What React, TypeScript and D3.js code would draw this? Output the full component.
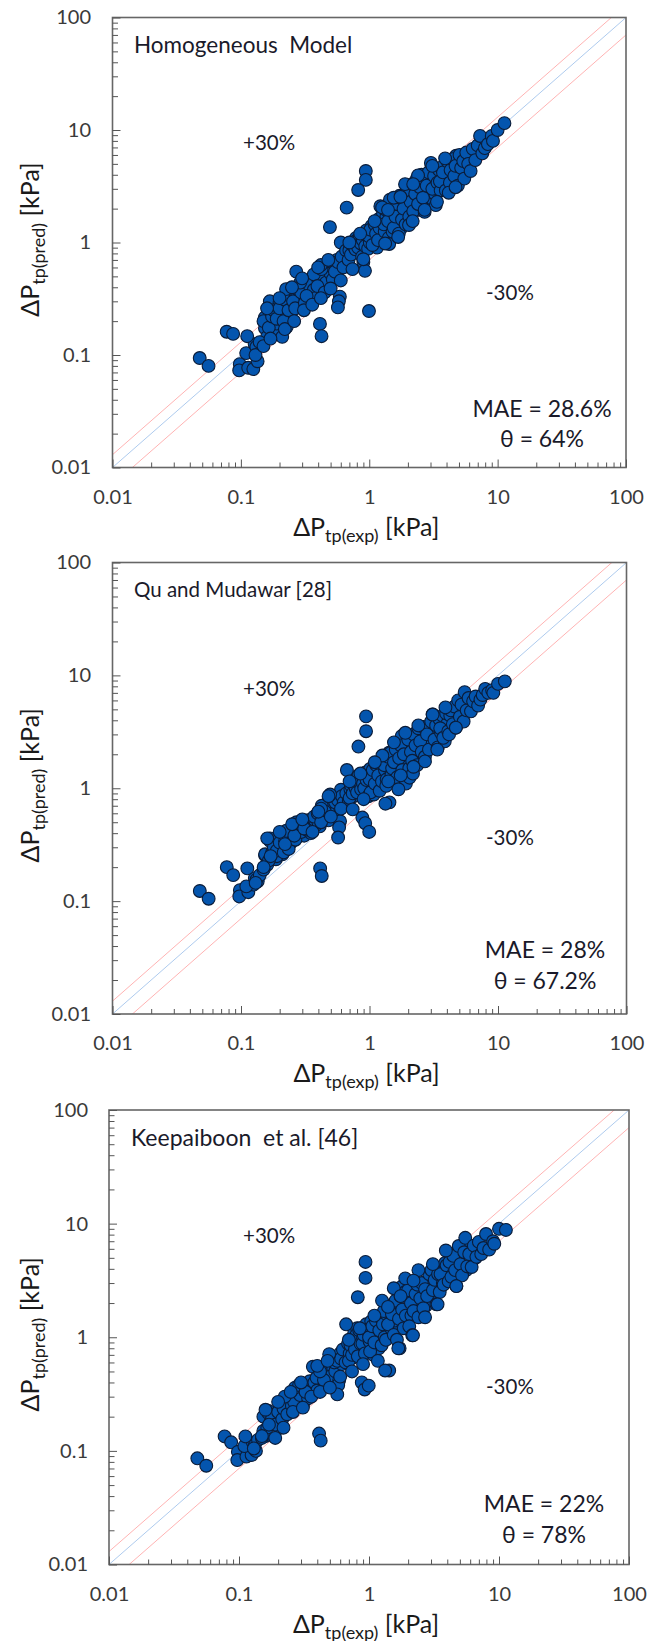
import React, { useRef, useEffect } from "react";
import * as d3 from "d3";

// experimental pressure drop, shared by the three panels [kPa]
const expValues = [
  .0478,.056,.0775,.087,.098,.097,.114,.125,.135,.11,.128,.132,
  .112,.154,.16,.187,.21,.154,.169,.168,.19,.2,.228,.245,
  .21,.23,.24,.25,.26,.275,.28,.3,.31,.33,.345,.36,
  .14,.15,.165,.175,.18,.19,.2,.215,.22,.235,.255,.265,
  .295,.315,.34,.35,.37,.41,.44,.47,.49,.51,.53,.56,
  .38,.4,.43,.46,.48,.5,.52,.55,.58,.62,.65,.68,
  .225,.27,.29,.325,.37,.395,.425,.45,.54,.42,.6,.57,
  .61,.63,.66,.69,.71,.73,.75,.77,.79,.81,.83,.85,
  .7,.72,.74,.76,.78,.8,.82,.84,.86,.88,.9,.926,
  .94,.94,.82,.667,.494,.995,.59,.58,.57,.413,.425,.97,
  .89,.91,.93,.95,.98,1.01,1.04,1.08,1.12,1.15,1.19,1.24,
  1.0,1.02,1.06,1.1,1.13,1.17,1.2,1.22,1.25,1.28,1.32,1.36,
  1.3,1.35,1.42,1.48,1.52,1.58,1.66,1.72,1.78,1.83,1.9,1.96,
  1.4,1.43,1.45,1.5,1.55,1.6,1.64,1.7,1.75,1.8,1.85,1.92,
  2.05,2.12,2.25,2.32,2.42,2.52,2.65,2.75,2.95,3.05,3.25,3.45,
  2.0,2.04,2.1,2.15,2.2,2.28,2.35,2.4,2.48,2.55,2.62,2.7,
  2.8,2.9,3.02,3.1,3.2,3.3,3.4,3.5,3.6,3.7,3.85,4.0,
  3.55,3.75,3.95,4.1,4.25,4.5,4.75,5.0,5.3,5.6,6.0,6.6,
  4.16,4.3,4.45,4.6,4.7,4.9,5.05,5.2,5.4,5.5,5.7,5.9,
  6.16,6.4,6.7,7.0,7.3,7.6,7.95,8.4,9.0,9.2,10.0,11.3,
  1.33,1.68,2.18,2.7,3.37,4.7,1.26,1.55,1.9,2.4,3.1,3.9,
  .13,.15,.17,.22,.26,.31,.36,.42,.5,.6,.74,.9,
  .16,.2,.25,.3,.4,.48,.7,.85,1.1,1.4,1.75,2.2,
];

const homogeneousPred = [
  .094,.08,.161,.154,.083,.073,.077,.075,.088,.104,.125,.118,
  .147,.173,.145,.154,.145,.216,.27,.3,.19,.295,.178,.232,
  .24,.3,.27,.35,.29,.34,.38,.31,.4,.37,.3,.44,
  .13,.2,.175,.22,.25,.21,.26,.2,.31,.25,.3,.26,
  .36,.29,.42,.33,.38,.52,.42,.56,.48,.62,.5,.7,
  .32,.47,.5,.44,.6,.53,.47,.64,.58,.66,.72,.62,
  .385,.55,.44,.335,.52,.41,.58,.36,.55,.63,1.0,.67,
  .75,.6,.85,.7,.92,.8,1.02,.88,1.1,.93,.82,1.15,
  .85,.78,.95,.94,.87,1.05,.9,1.1,.98,.75,.67,.56,
  4.32,3.6,2.93,2.04,1.37,.246,.33,.3,.265,.189,.147,1.15,
  1.05,1.2,.93,1.28,.88,1.0,1.4,1.25,1.5,.9,1.62,1.1,
  1.13,1.3,.95,1.45,1.2,1.05,1.35,2.1,1.55,1.8,1.25,1.7,
  1.45,1.95,1.1,2.05,1.25,2.3,1.5,2.6,1.35,2.2,1.75,2.9,
  1.55,.97,2.4,1.9,1.35,1.7,2.2,1.2,2.5,1.6,2.0,1.45,
  1.7,2.6,2.0,3.0,1.95,3.4,2.3,3.6,2.5,4.6,2.7,3.8,
  2.9,1.43,2.3,3.3,1.9,2.7,3.7,2.2,3.1,4.0,2.5,1.87,
  3.2,4.2,5.1,3.0,3.9,2.15,3.4,4.4,2.9,4.7,3.7,3.1,
  3.5,4.2,2.9,5.2,3.4,4.3,5.9,4.0,5.0,5.8,4.6,6.5,
  2.77,4.4,5.5,3.9,4.8,3.2,6.0,4.6,5.3,3.7,6.3,5.0,
  4.32,6.8,5.4,7.3,8.85,6.2,6.9,7.5,8.85,8.0,10.0,11.5,
  .98,1.12,1.55,1.95,2.3,3.1,2.05,2.5,3.3,3.95,4.8,5.6,
  .1,.12,.14,.17,.2,.25,.28,.32,.39,.46,.58,.71,
  .26,.32,.4,.48,.6,.7,1.0,1.2,1.55,1.95,2.55,3.3,
];

const quMudawarPred = [
  .123,.105,.2,.17,.125,.11,.12,.14,.15,.135,.16,.155,
  .195,.255,.21,.235,.26,.26,.34,.36,.25,.3,.31,.33,
  .3,.39,.36,.34,.42,.37,.4,.46,.38,.52,.45,.42,
  .17,.19,.23,.27,.3,.28,.33,.27,.34,.29,.39,.35,
  .41,.44,.49,.4,.53,.46,.55,.63,.68,.59,.66,.77,
  .47,.5,.6,.54,.52,.72,.6,.62,.7,.8,.72,.95,
  .42,.5,.48,.43,.56,.6,.7,.62,.75,.66,.97,.78,
  .85,.75,.9,.78,.98,1.1,.85,.95,1.15,1.28,1.02,.9,
  .82,1.05,.9,1.2,1.0,.92,1.3,1.1,.98,.55,1.25,.49,
  4.33,3.2,2.34,1.45,.88,.41,.51,.45,.366,.195,.167,1.35,
  1.1,1.0,1.38,1.18,.85,1.48,1.25,.88,1.55,1.3,1.02,1.68,
  1.2,.92,1.45,1.1,1.6,1.3,.95,1.75,1.15,1.9,1.45,1.2,
  1.6,1.05,2.07,1.3,1.85,1.15,2.3,1.6,2.9,1.25,2.45,1.7,
  1.9,.75,2.05,1.5,1.7,2.2,1.25,1.85,2.4,1.45,2.0,1.1,
  1.24,2.8,2.0,3.1,2.3,3.5,2.0,3.2,2.5,3.7,3.0,4.2,
  2.7,1.5,2.1,1.75,3.0,2.4,1.6,3.4,2.6,2.1,3.5,1.9,
  3.0,2.2,3.9,4.5,2.7,3.6,2.3,4.1,3.1,4.4,2.6,3.7,
  3.4,2.8,4.6,3.2,4.4,5.0,3.6,5.6,4.5,6.6,5.2,5.9,
  3.0,4.9,3.7,5.3,3.44,6.0,4.3,5.5,3.9,7.1,4.9,6.3,
  4.8,5.9,6.5,5.4,6.1,6.7,7.6,7.0,7.4,7.0,8.4,8.85,
  .73,.98,1.35,1.73,2.2,3.44,1.95,2.55,3.1,3.6,4.5,5.2,
  .145,.2,.25,.32,.38,.44,.41,.5,.56,.66,.65,.8,
  .36,.41,.48,.53,.62,.85,1.15,1.35,1.7,1.15,1.3,1.55,
];

const keepaiboonPred = [
  .086,.074,.134,.119,.098,.083,.089,.092,.1,.11,.118,.112,
  .134,.15,.135,.17,.16,.2,.225,.215,.13,.19,.21,.22,
  .2,.24,.27,.23,.29,.26,.32,.28,.25,.34,.3,.36,
  .125,.13,.16,.18,.195,.17,.22,.19,.235,.21,.25,.27,
  .31,.36,.29,.41,.35,.4,.46,.43,.53,.47,.58,.52,
  .4,.34,.48,.38,.56,.45,.62,.5,.68,.58,.72,.8,
  .3,.36,.38,.33,.55,.44,.52,.42,.6,.5,.72,.62,
  .65,.78,.6,.88,.72,.95,.66,1.1,.82,1.2,.92,.74,
  .62,.85,.7,.94,.78,1.05,.68,1.15,.88,.4,1.0,.347,
  4.6,3.33,2.25,1.3,.71,.375,.42,.38,.314,.142,.123,.86,
  .88,1.05,.72,1.3,1.12,.92,1.38,.7,1.2,1.5,.8,1.05,
  1.0,.75,1.25,.9,1.4,.62,1.15,1.5,.85,1.3,1.0,1.6,
  1.7,.95,1.9,1.2,1.75,1.4,2.15,.8,2.78,1.35,2.5,1.65,
  1.3,.51,1.9,1.6,1.05,2.1,.95,1.45,2.3,1.75,1.2,1.55,
  2.25,1.55,3.1,2.1,2.7,2.0,3.0,1.9,3.3,2.8,2.4,3.0,
  2.6,1.25,2.0,1.04,1.7,2.4,2.9,1.5,2.2,3.0,1.8,2.65,
  2.3,3.6,3.9,2.6,3.2,1.95,3.6,2.5,4.1,3.0,4.5,3.4,
  3.6,2.9,4.3,3.1,4.8,3.7,5.5,4.1,6.0,3.9,6.2,5.0,
  4.6,3.4,5.2,3.9,2.82,6.35,4.4,3.5,5.6,7.5,4.2,5.4,
  4.15,6.4,5.1,6.9,5.4,6.1,8.1,5.9,7.0,6.65,9.0,8.8,
  .51,.8,1.04,1.5,1.95,2.82,2.1,2.7,3.3,3.9,4.4,5.8,
  .105,.135,.17,.16,.22,.24,.3,.33,.36,.45,.5,.58,
  .23,.27,.33,.4,.56,.62,.95,1.2,1.55,1.85,2.3,3.15,
];

const majorTicks = [0.01, 0.1, 1, 10, 100];
const minorTicks = d3.range(-2, 2).flatMap((e) =>
  [2, 3, 4, 5, 6, 7, 8, 9].map((m) => +(m * 10 ** e).toPrecision(2))
);
const guideLines = [
  { factor: 1.3, color: "#ffb3b3" },
  { factor: 1, color: "#aecbee" },
  { factor: 0.7, color: "#ffb3b3" },
];
const guideDomain = [0.01, 100];

const panels = [
  {
    title: "Homogeneous  Model", mae: "MAE = 28.6%", theta: "θ = 64%", pred: homogeneousPred,
    left: 112.5, right: 626, top: 17.5, bottom: 467.5, labelEnd: 91, titleSize: 22.5,
    titleX: 134, titleY: 53, plusY: 150, minusX: 486, minusY: 300, maeX: 542, maeY: 417, thetaX: 542, thetaY: 447,
  },
  {
    title: "Qu and Mudawar [28]", mae: "MAE = 28%", theta: "θ = 67.2%", pred: quMudawarPred,
    left: 112.5, right: 626.5, top: 562.5, bottom: 1014, labelEnd: 91, titleSize: 20.5,
    titleX: 134, titleY: 597, plusY: 696, minusX: 486, minusY: 845, maeX: 545, maeY: 958, thetaX: 545, thetaY: 989,
  },
  {
    title: "Keepaiboon  et al. [46]", mae: "MAE = 22%", theta: "θ = 78%", pred: keepaiboonPred,
    left: 109, right: 629, top: 1110, bottom: 1564.5, labelEnd: 88, titleSize: 23,
    titleX: 131, titleY: 1146, plusY: 1243, minusX: 486, minusY: 1394, maeX: 544, maeY: 1512, thetaX: 544, thetaY: 1543,
  },
];

const FONT = "Lato, 'Open Sans', sans-serif";

function addLabel(parent, x, y, main, sub, rotate) {
  const t = parent
    .append("text")
    .attr("font-size", 25)
    .attr("fill", "#1a1a1a")
    .attr("text-anchor", "middle")
    .attr("transform", `translate(${x},${y})` + (rotate ? " rotate(-90)" : ""));
  t.append("tspan").text(main);
  t.append("tspan").attr("font-size", 18).attr("dy", 6).text(sub);
  t.append("tspan").attr("dy", -6).text(" [kPa]");
}

const App = () => {
  const svgRef = useRef();

  useEffect(() => {
    const svg = d3.select(svgRef.current);
    svg.selectAll("*").remove();
    svg.style("font-family", FONT);

    panels.forEach((p, i) => {
      const x = d3.scaleLog().domain([0.01, 100]).range([p.left, p.right]);
      const y = d3.scaleLog().domain([0.01, 100]).range([p.bottom, p.top]);
      const g = svg.append("g");
      const clipId = "clip" + i;

      g.append("clipPath")
        .attr("id", clipId)
        .append("rect")
        .attr("x", p.left)
        .attr("y", p.top)
        .attr("width", p.right - p.left)
        .attr("height", p.bottom - p.top);

      guideLines.forEach((l) => {
        const line = d3
          .line()
          .x((d) => x(d))
          .y((d) => y(d * l.factor));
        g.append("path")
          .attr("d", line(guideDomain))
          .attr("clip-path", `url(#${clipId})`)
          .attr("fill", "none")
          .attr("stroke", l.color)
          .attr("stroke-width", 1);
      });

      g.append("rect")
        .attr("x", p.left)
        .attr("y", p.top)
        .attr("width", p.right - p.left)
        .attr("height", p.bottom - p.top)
        .attr("fill", "none")
        .attr("stroke", "#666")
        .attr("stroke-width", 1.6);

      // ticks point into the plot
      const axisB = g.append("g").attr("transform", `translate(0,${p.bottom})`);
      axisB.call(d3.axisBottom(x).tickValues(minorTicks).tickSize(-5).tickFormat(() => ""));
      const axisBMajor = g.append("g").attr("transform", `translate(0,${p.bottom})`);
      axisBMajor.call(d3.axisBottom(x).tickValues(majorTicks).tickSize(-8).tickFormat((d) => String(d)));
      const axisL = g.append("g").attr("transform", `translate(${p.left},0)`);
      axisL.call(d3.axisLeft(y).tickValues(minorTicks).tickSize(-5.5).tickFormat(() => ""));
      const axisLMajor = g.append("g").attr("transform", `translate(${p.left},0)`);
      axisLMajor.call(d3.axisLeft(y).tickValues(majorTicks).tickSize(-8).tickFormat((d) => String(d)));

      [axisB, axisBMajor, axisL, axisLMajor].forEach((a) => {
        a.select(".domain").remove();
        a.selectAll("line").attr("stroke", "#555").attr("stroke-width", 1);
        a.selectAll("text")
          .attr("fill", "#3a3a3a")
          .style("font-family", FONT)
          .style("font-size", "20px");
      });
      axisBMajor.selectAll("text").attr("y", 22).attr("dy", "0.71em");
      axisLMajor.selectAll("text").attr("x", p.labelEnd - p.left);

      g.append("g")
        .selectAll("circle")
        .data(d3.zip(expValues, p.pred))
        .join("circle")
        .attr("cx", (d) => x(d[0]))
        .attr("cy", (d) => y(d[1]))
        .attr("r", 6.4)
        .attr("fill", "#0455ae")
        .attr("stroke", "#0b1c38")
        .attr("stroke-width", 1.1);

      const note = (tx, ty, str, anchor, size) =>
        g.append("text")
          .attr("x", tx)
          .attr("y", ty)
          .attr("text-anchor", anchor)
          .attr("font-size", size)
          .attr("fill", "#1a1a2a")
          .style("white-space", "pre")
          .text(str);

      note(p.titleX, p.titleY, p.title, "start", p.titleSize);
      note(243, p.plusY, "+30%", "start", 20.5);
      note(p.minusX, p.minusY, "-30%", "start", 20.5);
      note(p.maeX, p.maeY, p.mae, "middle", 23);
      note(p.thetaX, p.thetaY, p.theta, "middle", 23);

      addLabel(svg, (p.left + p.right) / 2 - 3, p.bottom + 68, "ΔP", "tp(exp)", false);
      addLabel(svg, 39, (p.top + p.bottom) / 2 - 3, "ΔP", "tp(pred)", true);
    });
  }, []);

  return (
    <svg
      ref={svgRef}
      width={664}
      height={1641}
      style={{ position: "absolute", left: 0, top: 0, background: "#fff" }}
    />
  );
};

export default App;
